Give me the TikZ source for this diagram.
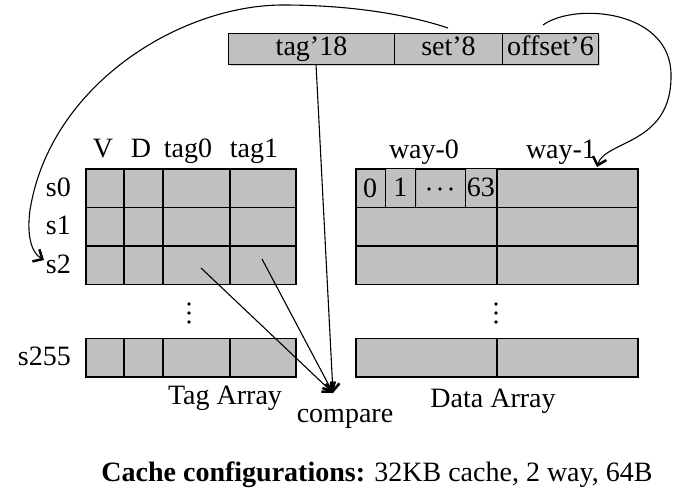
\documentclass[tikz,border=0pt]{standalone}
\usepackage{fontspec}
\setmainfont{Liberation Serif}
\usetikzlibrary{arrows.meta,shadows}
\definecolor{cellgray}{RGB}{192,192,192}
\begin{document}
\begin{tikzpicture}[x=1pt,y=-1pt,
  cell/.style={draw, line width=1.5pt, fill=cellgray, rectangle, inner sep=0pt,
    anchor=north west, minimum height=38.5pt},
  barcell/.style={draw, line width=1pt, fill=cellgray, rectangle, inner sep=0pt,
    anchor=north west, minimum height=31pt,
    drop shadow={shadow xshift=1.5pt, shadow yshift=-1.5pt, opacity=0.35}},
  subcell/.style={draw, line width=0.9pt, fill=cellgray, rectangle, inner sep=0pt,
    anchor=north west, minimum height=38.5pt, font=\fontsize{28}{30}\selectfont,
    drop shadow={shadow xshift=1.2pt, shadow yshift=-1.2pt, opacity=0.3}},
  txt/.style={font=\fontsize{28}{30}\selectfont, inner sep=0pt},
  dot/.style={fill=black},
  conn/.style={line width=1.1pt, -{Straight Barb[length=7.5pt,width=14pt,line width=2.5pt]}},
]
\useasboundingbox (0,0) rectangle (684,495);

% address bar
\node[barcell, minimum width=166pt] (ftag) at (228,33) {};
\node[barcell, minimum width=108pt] (fset) at (394,33) {};
\node[barcell, minimum width=96pt] (foff) at (502,33) {};
\node[txt, anchor=base] (ftagt) at (ftag.center |- 0,56) {tag’18};
\node[txt, anchor=base] (fsett) at (fset.center |- 0,56) {set’8};
\node[txt, anchor=base] (fofft) at (foff.center |- 0,56) {offset’6};

% tag array column headers
\node[txt, anchor=base] (hv) at (103,157) {V};
\node[txt, anchor=base] (hd) at (141,157) {D};
\node[txt, anchor=base] (ht0) at (188,157) {tag0};
\node[txt, anchor=base] (ht1) at (254,157) {tag1};

% tag array
\foreach \r/\y in {0/168,1/206.5,2/245,3/337.5}{
  \node[cell, minimum width=38pt] (t\r-0) at (85,\y) {};
  \node[cell, minimum width=39pt] (t\r-1) at (123,\y) {};
  \node[cell, minimum width=67pt] (t\r-2) at (162,\y) {};
  \node[cell, minimum width=66pt] (t\r-3) at (229,\y) {};
}
\node[txt, anchor=east] (s0) at (71,187.25) {s0};
\node[txt, anchor=east] (s1) at (71,225.75) {s1};
\node[txt, anchor=east] (s2) at (71,264.25) {s2};
\node[txt, anchor=east] (s255) at (71,356.75) {s255};
\foreach \yy in {304,313,322} \fill[dot] (189,\yy) circle (1.9);
\node[txt, anchor=base] (tagarr) at (225,404) {Tag Array};

% data array
\node[txt, anchor=base] (w0) at (424,158) {way-0};
\node[txt, anchor=base] (w1) at (561,158) {way-1};
\foreach \r/\y in {0/168,1/206.5,2/245,3/337.5}{
  \node[cell, minimum width=141pt] (d\r-0) at (355,\y) {};
  \node[cell, minimum width=141pt] (d\r-1) at (496,\y) {};
}
\node[subcell, minimum width=30pt] (b1) at (385,168) {1};
\node[subcell, minimum width=31pt] (b63) at (465,168) {63};
\draw[line width=1.5pt] (d0-0.north east) -- (d0-0.south east);
\node[txt] (b0) at (370,188) {0};
\foreach \xx in {429,440,451} \fill[dot] (\xx,189) circle (1.8);
\foreach \yy in {304,313,322} \fill[dot] (496,\yy) circle (1.9);
\node[txt, anchor=base] (datarr) at (493,407) {Data Array};

\node[txt, anchor=base] (cmp) at (345,422) {compare};

% caption
\node[txt, anchor=base] (cap) at (377,481)
  {\textbf{Cache configurations:} 32KB cache, 2 way, 64B};

% connector endpoints
\coordinate (setTop) at (448,28);
\coordinate (s2tip) at (44,260);
\coordinate (offTop) at (543,25);
\coordinate (w1tip) at (597,167);
\coordinate (tagBot) at (316,64);
\coordinate (cmpTip) at (333,393);
\coordinate (t0src) at (201,268);
\coordinate (t1src) at (262,259);

\draw[conn] (setTop) .. controls (400,12) and (340,5) .. (283,5)
  .. controls (180,5) and (50,85) .. (30,210)
  .. controls (27,232) and (30,252) .. (s2tip);
\draw[conn] (offTop) .. controls (575,2) and (671,10) .. (671,75)
  .. controls (672,145) and (605,140) .. (w1tip);
\draw[conn] (tagBot) -- (cmpTip);
\draw[conn] (t0src) -- (cmpTip);
\draw[conn] (t1src) -- (cmpTip);
\end{tikzpicture}
\end{document}
